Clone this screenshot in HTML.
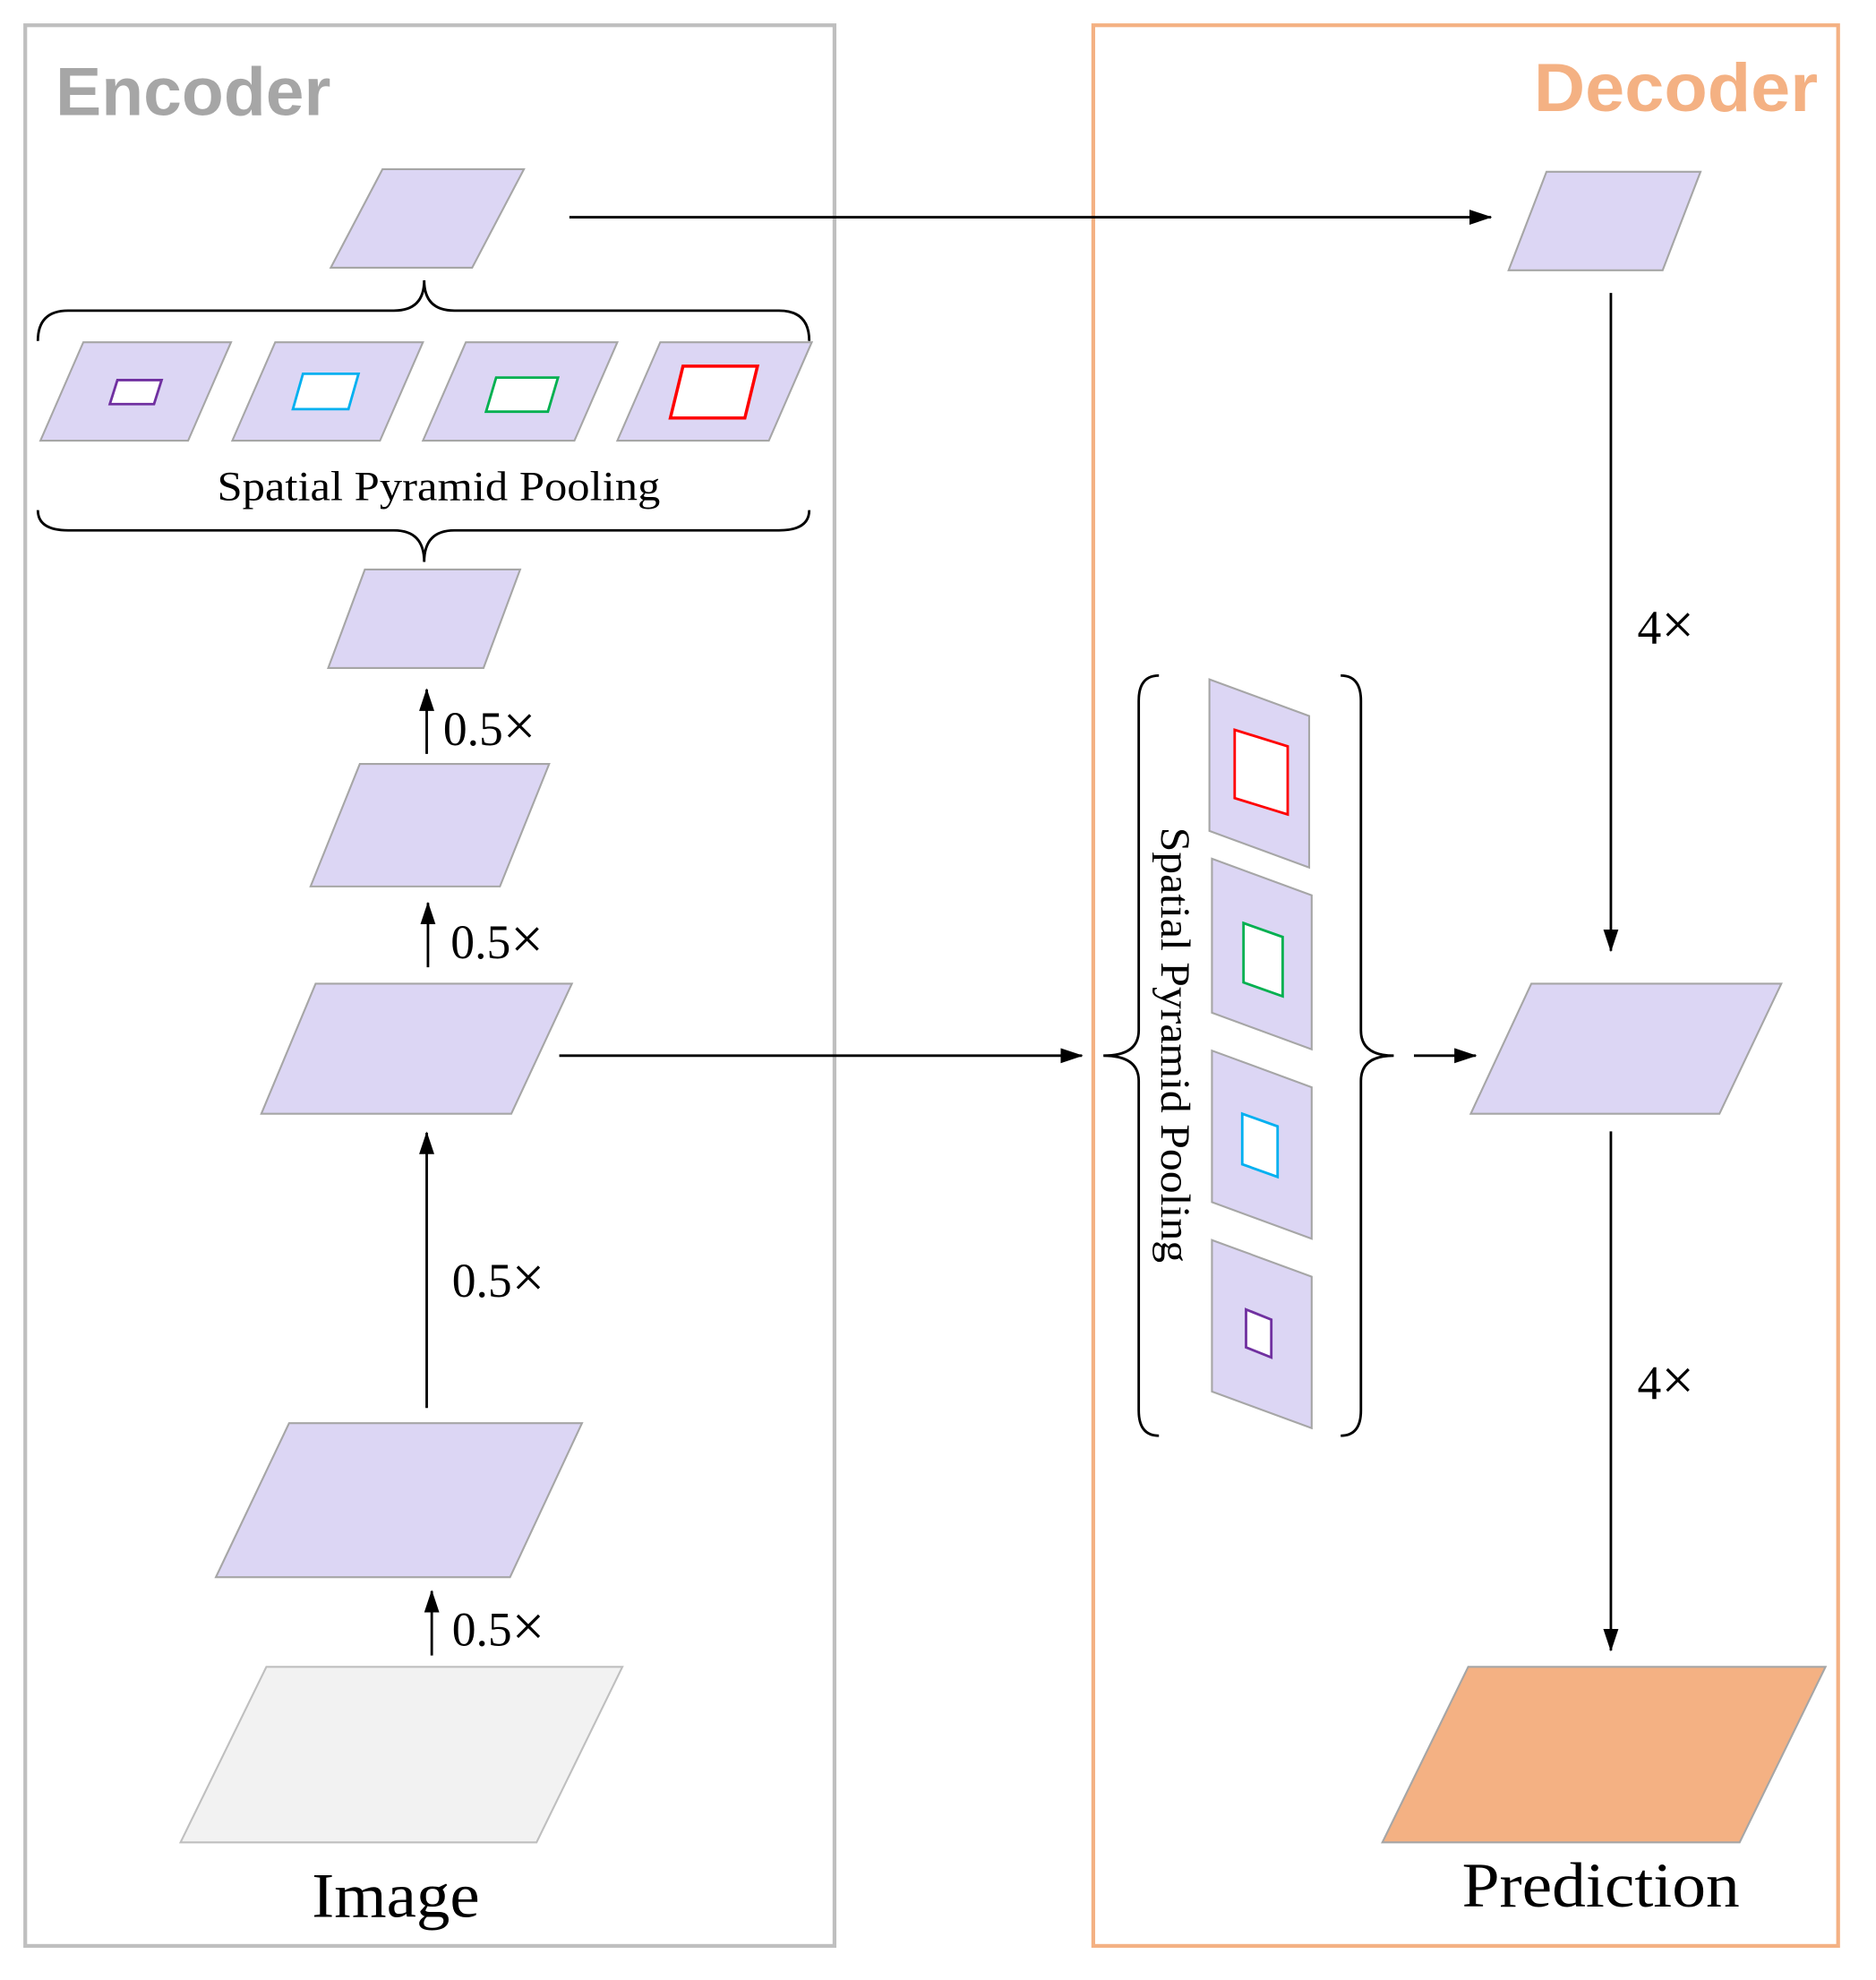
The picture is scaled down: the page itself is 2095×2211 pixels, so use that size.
<!DOCTYPE html>
<html><head><meta charset="utf-8"><style>
html,body{margin:0;padding:0;background:#fff;}
svg{display:block;}
.p{fill:#dcd6f4;stroke:#a6a6a6;stroke-width:1.5;}
.t{font-family:"Liberation Serif",serif;fill:#000;}
.b{fill:none;stroke:#000;stroke-width:2;}
.a{stroke:#000;stroke-width:2;}
</style></head><body>
<svg width="2095" height="2211" viewBox="0 0 1486 1568" preserveAspectRatio="none" xmlns="http://www.w3.org/2000/svg">
<defs>
<marker id="ah2" viewBox="0 0 18 12" markerWidth="18" markerHeight="12" refX="17" refY="6" orient="auto" markerUnits="userSpaceOnUse"><path d="M0,0 L18,6 L0,12 z" fill="#000"/></marker></defs>
<rect x="20" y="20" width="641" height="1521" fill="none" stroke="#bfbfbf" stroke-width="3"/>
<rect x="866" y="20" width="590" height="1521" fill="none" stroke="#f4b183" stroke-width="3"/>
<text x="44" y="91" font-family="Liberation Sans,sans-serif" font-weight="bold" font-size="54" fill="#a6a6a6" textLength="218" lengthAdjust="spacingAndGlyphs">Encoder</text>
<text x="1215" y="88" font-family="Liberation Sans,sans-serif" font-weight="bold" font-size="54" fill="#f4b183" textLength="225" lengthAdjust="spacingAndGlyphs">Decoder</text>

<polygon class="p" points="262,212 303,134 415,134 374,212"/>
<path class="b" d="M30,270 Q30,246 54,246 L312,246 Q336,246 336,222 Q336,246 360,246 L617,246 Q641,246 641,270"/>
<polygon class="p" points="32,349 66,271 183,271 149,349"/>
<polygon class="p" points="184,349 218,271 335,271 301,349"/>
<polygon class="p" points="335,349 369,271 489,271 455,349"/>
<polygon class="p" points="489,349 523,271 643,271 609,349"/>
<polygon points="87,320 93,301 128,301 122,320" fill="#fff" stroke="#7030a0" stroke-width="2"/>
<polygon points="232,324 240,296 284,296 276,324" fill="#fff" stroke="#00b0f0" stroke-width="2"/>
<polygon points="385,326 393,299 442,299 434,326" fill="#fff" stroke="#00b050" stroke-width="2"/>
<polygon points="531,331 541,290 600,290 590,331" fill="#fff" stroke="#ff0000" stroke-width="2.5"/>
<text class="t" x="172" y="396" font-size="33" textLength="351" lengthAdjust="spacingAndGlyphs">Spatial Pyramid Pooling</text>
<path class="b" d="M30,404 Q30,420 54,420 L312,420 Q336,420 336,445 Q336,420 360,420 L617,420 Q641,420 641,404"/>
<polygon class="p" points="260,529 289,451 412,451 383,529"/>
<line class="a" x1="338" y1="597" x2="338" y2="546" marker-end="url(#ah2)"/>
<text class="t" x="351" y="590" font-size="38">0.5<tspan font-size="46">×</tspan></text>
<polygon class="p" points="246,702 285,605 435,605 396,702"/>
<line class="a" x1="339" y1="766" x2="339" y2="715" marker-end="url(#ah2)"/>
<text class="t" x="357" y="759" font-size="38">0.5<tspan font-size="46">×</tspan></text>
<polygon class="p" points="207,882 250,779 453,779 405,882"/>
<line class="a" x1="338" y1="1115" x2="338" y2="897" marker-end="url(#ah2)"/>
<text class="t" x="358" y="1027" font-size="38">0.5<tspan font-size="46">×</tspan></text>
<polygon class="p" points="171,1249 229,1127 461,1127 404,1249"/>
<line class="a" x1="342" y1="1311" x2="342" y2="1260" marker-end="url(#ah2)"/>
<text class="t" x="358" y="1303" font-size="38">0.5<tspan font-size="46">×</tspan></text>
<polygon points="143,1459 211,1320 493,1320 425,1459" fill="#f2f2f2" stroke="#bfbfbf" stroke-width="1.5"/>
<text class="t" x="247" y="1518" font-size="50" textLength="133" lengthAdjust="spacingAndGlyphs">Image</text>

<line class="a" x1="451" y1="172" x2="1181" y2="172" marker-end="url(#ah2)"/>
<line class="a" x1="443" y1="836" x2="857" y2="836" marker-end="url(#ah2)"/>

<polygon class="p" points="1195,214 1225,136 1347,136 1317,214"/>
<line class="a" x1="1276" y1="232" x2="1276" y2="753" marker-end="url(#ah2)"/>
<text class="t" x="1297" y="510" font-size="38">4<tspan font-size="46">×</tspan></text>
<polygon class="p" points="1165,882 1213,779 1411,779 1362,882"/>
<line class="a" x1="1276" y1="896" x2="1276" y2="1307" marker-end="url(#ah2)"/>
<text class="t" x="1297" y="1108" font-size="38">4<tspan font-size="46">×</tspan></text>
<polygon points="1095,1459 1163,1320 1446,1320 1378,1459" fill="#f4b183" stroke="#a6a6a6" stroke-width="1.5"/>
<text class="t" x="1158" y="1510" font-size="50" textLength="220" lengthAdjust="spacingAndGlyphs">Prediction</text>

<polygon class="p" points="958,538 1037,567 1037,687 958,658"/>
<polygon class="p" points="960,680 1039,709 1039,831 960,802"/>
<polygon class="p" points="960,832 1039,861 1039,981 960,952"/>
<polygon class="p" points="960,982 1039,1011 1039,1131 960,1102"/>
<polygon points="978,578 1020,591 1020,645 978,632" fill="#fff" stroke="#ff0000" stroke-width="2"/>
<polygon points="985,731 1016,742 1016,789 985,778" fill="#fff" stroke="#00b050" stroke-width="2"/>
<polygon points="984,882 1012,892 1012,932 984,922" fill="#fff" stroke="#00b0f0" stroke-width="2"/>
<polygon points="987,1037 1007,1045 1007,1075 987,1067" fill="#fff" stroke="#7030a0" stroke-width="2"/>
<text class="t" x="0" y="0" font-size="33" transform="translate(920,655) rotate(90)" textLength="345" lengthAdjust="spacingAndGlyphs">Spatial Pyramid Pooling</text>
<path class="b" d="M918,535 Q902,535 902,555 L902,816 Q902,836 874,836 Q902,836 902,856 L902,1117 Q902,1137 918,1137"/>
<path class="b" d="M1062,535 Q1078,535 1078,555 L1078,816 Q1078,836 1104,836 Q1078,836 1078,856 L1078,1117 Q1078,1137 1062,1137"/>
<line class="a" x1="1120" y1="836" x2="1169" y2="836" marker-end="url(#ah2)"/>
</svg>
</body></html>
